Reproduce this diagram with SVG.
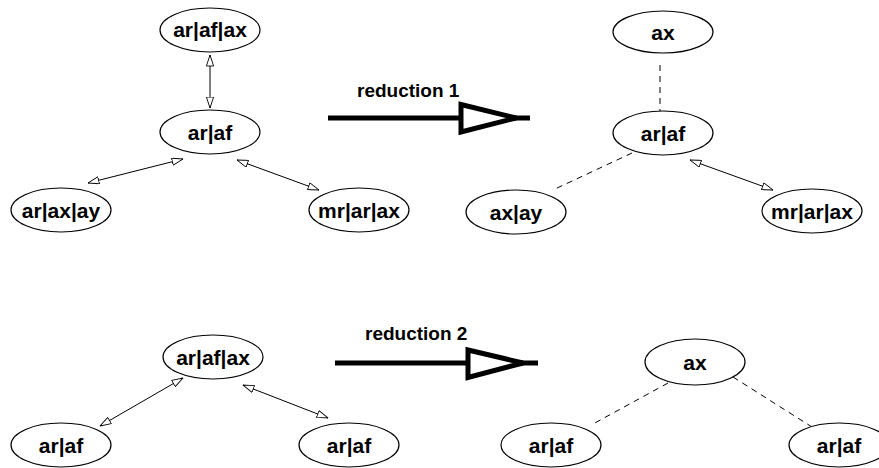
<svg xmlns="http://www.w3.org/2000/svg" width="879" height="468" viewBox="0 0 879 468">
  <style>
    .node ellipse { fill: #fff; stroke: #000; stroke-width: 1.2; }
    .node text { font-family: "Liberation Sans", Arial, sans-serif; font-weight: bold; font-size: 21px; text-anchor: middle; dominant-baseline: central; fill: #000; }
    .edge { stroke: #000; stroke-width: 1; fill: none; }
    .both { marker-start: url(#hollow); marker-end: url(#hollow); }
    .dash { stroke-dasharray: 6 5; }
    .red-line { stroke: #000; stroke-width: 5; fill: none; }
    .red-head { stroke: #000; stroke-width: 5; fill: #fff; stroke-linejoin: miter; }
    .red-label { font-family: "Liberation Sans", Arial, sans-serif; font-weight: bold; font-size: 19px; fill: #000; }
  </style>
  <defs>
    <marker id="hollow" viewBox="0 0 12 8" refX="11.5" refY="4" markerWidth="12" markerHeight="8" markerUnits="userSpaceOnUse" orient="auto-start-reverse">
      <path d="M0.5,0.4 L11.5,4 L0.5,7.6 Z" fill="#fff" stroke="#000" stroke-width="0.9"/>
    </marker>
  </defs>

  <rect width="879" height="468" fill="#fff"/>

  <!-- connectors -->
  <g id="connectors">
    <!-- graph 1 -->
    <line class="edge both" x1="210" y1="55" x2="210" y2="108"/>
    <line class="edge both" x1="88" y1="183" x2="183" y2="159"/>
    <line class="edge both" x1="237" y1="160" x2="319" y2="190"/>
    <!-- graph 1, reduced -->
    <line class="edge dash" x1="660" y1="65" x2="660" y2="111"/>
    <line class="edge dash" x1="632" y1="153" x2="555" y2="189"/>
    <line class="edge both" x1="690" y1="160" x2="773" y2="190"/>
    <!-- graph 2 -->
    <line class="edge both" x1="183" y1="378" x2="100" y2="426"/>
    <line class="edge both" x1="243" y1="385" x2="328" y2="418"/>
    <!-- graph 2, reduced -->
    <line class="edge dash" x1="668" y1="383" x2="593" y2="424"/>
    <line class="edge dash" x1="733" y1="377" x2="812" y2="427"/>
    <!-- reduction arrows -->
    <g id="reduction1">
      <line class="red-line" x1="328" y1="118" x2="530" y2="118"/>
      <path class="red-head" d="M461,104.5 L461,132 L516,118 Z"/>
      <text class="red-label" x="357" y="97">reduction 1</text>
    </g>
    <g id="reduction2">
      <line class="red-line" x1="335" y1="363" x2="538" y2="363"/>
      <path class="red-head" d="M468,350 L468,377.5 L523,363 Z"/>
      <text class="red-label" x="365" y="340">reduction 2</text>
    </g>
  </g>

  <!-- graph 1 -->
  <g id="g1-arafax" class="node"><ellipse cx="210" cy="30" rx="50" ry="22"/><text x="210" y="29">ar|af|ax</text></g>
  <g id="g1-araf" class="node"><ellipse cx="210" cy="132" rx="50" ry="22"/><text x="210" y="132">ar|af</text></g>
  <g id="g1-araxay" class="node"><ellipse cx="61" cy="210" rx="50" ry="22"/><text x="61" y="210">ar|ax|ay</text></g>
  <g id="g1-mrarax" class="node"><ellipse cx="359" cy="210" rx="50" ry="22"/><text x="359" y="210">mr|ar|ax</text></g>

  <!-- graph 1, reduced -->
  <g id="r1-ax" class="node"><ellipse cx="663" cy="32" rx="50" ry="21"/><text x="663" y="32">ax</text></g>
  <g id="r1-araf" class="node"><ellipse cx="663" cy="133" rx="50" ry="22"/><text x="663" y="133">ar|af</text></g>
  <g id="r1-axay" class="node"><ellipse cx="516" cy="212" rx="50" ry="22"/><text x="516" y="212">ax|ay</text></g>
  <g id="r1-mrarax" class="node"><ellipse cx="812" cy="211" rx="50" ry="22"/><text x="812" y="211">mr|ar|ax</text></g>

  <!-- graph 2 -->
  <g id="g2-arafax" class="node"><ellipse cx="213" cy="357" rx="50" ry="22"/><text x="213" y="357">ar|af|ax</text></g>
  <g id="g2-araf-left" class="node"><ellipse cx="61" cy="445" rx="50" ry="22"/><text x="61" y="445">ar|af</text></g>
  <g id="g2-araf-right" class="node"><ellipse cx="349" cy="445" rx="50" ry="22"/><text x="349" y="445">ar|af</text></g>

  <!-- graph 2, reduced -->
  <g id="r2-ax" class="node"><ellipse cx="695" cy="362" rx="50" ry="23"/><text x="695" y="362">ax</text></g>
  <g id="r2-araf-left" class="node"><ellipse cx="551" cy="445" rx="50" ry="22"/><text x="551" y="445">ar|af</text></g>
  <g id="r2-araf-right" class="node"><ellipse cx="839" cy="445" rx="50" ry="22"/><text x="839" y="445">ar|af</text></g>
</svg>
